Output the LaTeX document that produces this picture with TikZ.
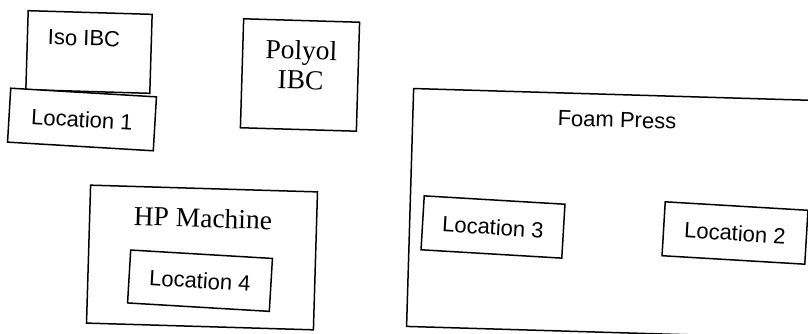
\documentclass[tikz,border=0pt]{standalone}
\usepackage{fontspec}
\setmainfont{Liberation Serif}
\setsansfont{Liberation Sans}
\begin{document}
\begin{tikzpicture}[x=1pt,y=1pt,
  box/.style={draw, line width=1.5pt, rotate=-1.7, inner sep=0pt, outer sep=0pt,
              minimum width=#1},
  sanslabel/.style={font=\fontsize{22}{26}\selectfont\sffamily, rotate=-1.7, inner sep=0pt},
  seriflabel/.style={font=\fontsize{27.5}{30}\selectfont\rmfamily, rotate=-1.7, inner sep=0pt, align=center}]
  \useasboundingbox (0,0) rectangle (808,334);
  \clip (0,0) rectangle (808,334);

  % Iso IBC with Location 1 beneath it
  \node[box=124pt, minimum height=79pt] (iso) at (89,282) {};
  \node[sanslabel] (isolabel) at (84,296) {Iso IBC};
  \node[box=146pt, minimum height=54pt, fill=white, sanslabel] (loc1) at (82,214.5) {Location 1};

  % Polyol IBC
  \node[box=116pt, minimum height=109pt] (polyol) at (300,259) {};
  \node[seriflabel] (polyollabel) at (301,269) {Polyol\\IBC};

  % HP Machine with Location 4
  \node[box=227pt, minimum height=138pt] (hp) at (202,76.5) {};
  \node[seriflabel] (hplabel) at (203,116) {HP Machine};
  \node[box=142pt, minimum height=53pt, sanslabel] (loc4) at (200,53.3) {Location 4};

  % Foam Press with Locations 3 and 2
  \node[box=440pt, minimum height=238pt] (foam) at (630,120) {};
  \node[sanslabel] (foamlabel) at (617,214) {Foam Press};
  \node[box=141pt, minimum height=54pt, sanslabel] (loc3) at (493,107) {Location 3};
  \node[box=143pt, minimum height=54pt, sanslabel] (loc2) at (735,101) {Location 2};
\end{tikzpicture}
\end{document}
